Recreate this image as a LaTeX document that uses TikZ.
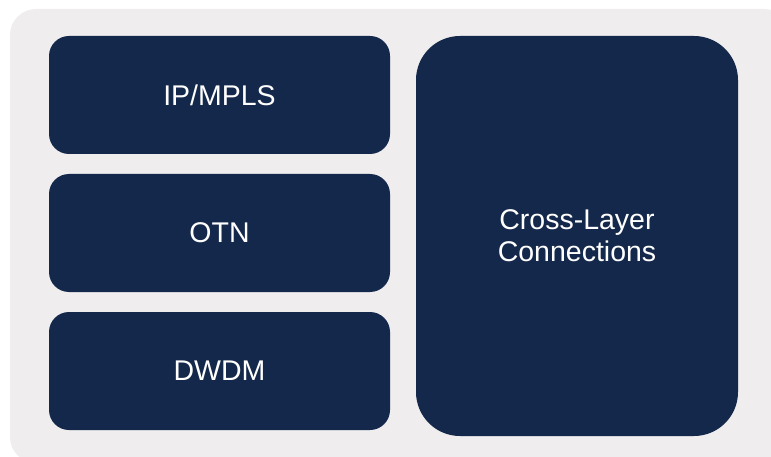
\documentclass[tikz,border=0pt]{standalone}
\usepackage{fontspec}
\setmainfont{Liberation Sans}
\usepackage{tikz}
\usetikzlibrary{positioning}
\definecolor{navy}{HTML}{14284B}
\definecolor{panel}{HTML}{EFEDEE}

\begin{document}
\begin{tikzpicture}
[x=1pt, y=-1pt,
  layerbox/.style={rectangle, fill=navy, rounded corners=20pt,
  minimum width=341pt, minimum height=118pt, inner sep=0pt,
  text=white, font=\fontsize{28.5}{32}\selectfont},
  crossbox/.style={rectangle, fill=navy, rounded corners=44pt,
  minimum width=322pt, minimum height=400pt, inner sep=0pt,
  text=white, align=center, font=\fontsize{28.5}{32}\selectfont}]
  \useasboundingbox (0,0) rectangle (771,457);
  \clip (0,0) rectangle (771,457);
  \fill[panel, rounded corners=26pt] (10,9) rectangle (790,463);
  \node[layerbox] (IPMPLS) at (219.5,95) {IP/MPLS};
  \node[layerbox] (OTN) at (219.5,233) {OTN};
  \node[layerbox] (DWDM) at (219.5,371) {DWDM};
  \node[crossbox] (CrossLayer) at (577,236) {Cross-Layer\\Connections};
\end{tikzpicture}
\end{document}
